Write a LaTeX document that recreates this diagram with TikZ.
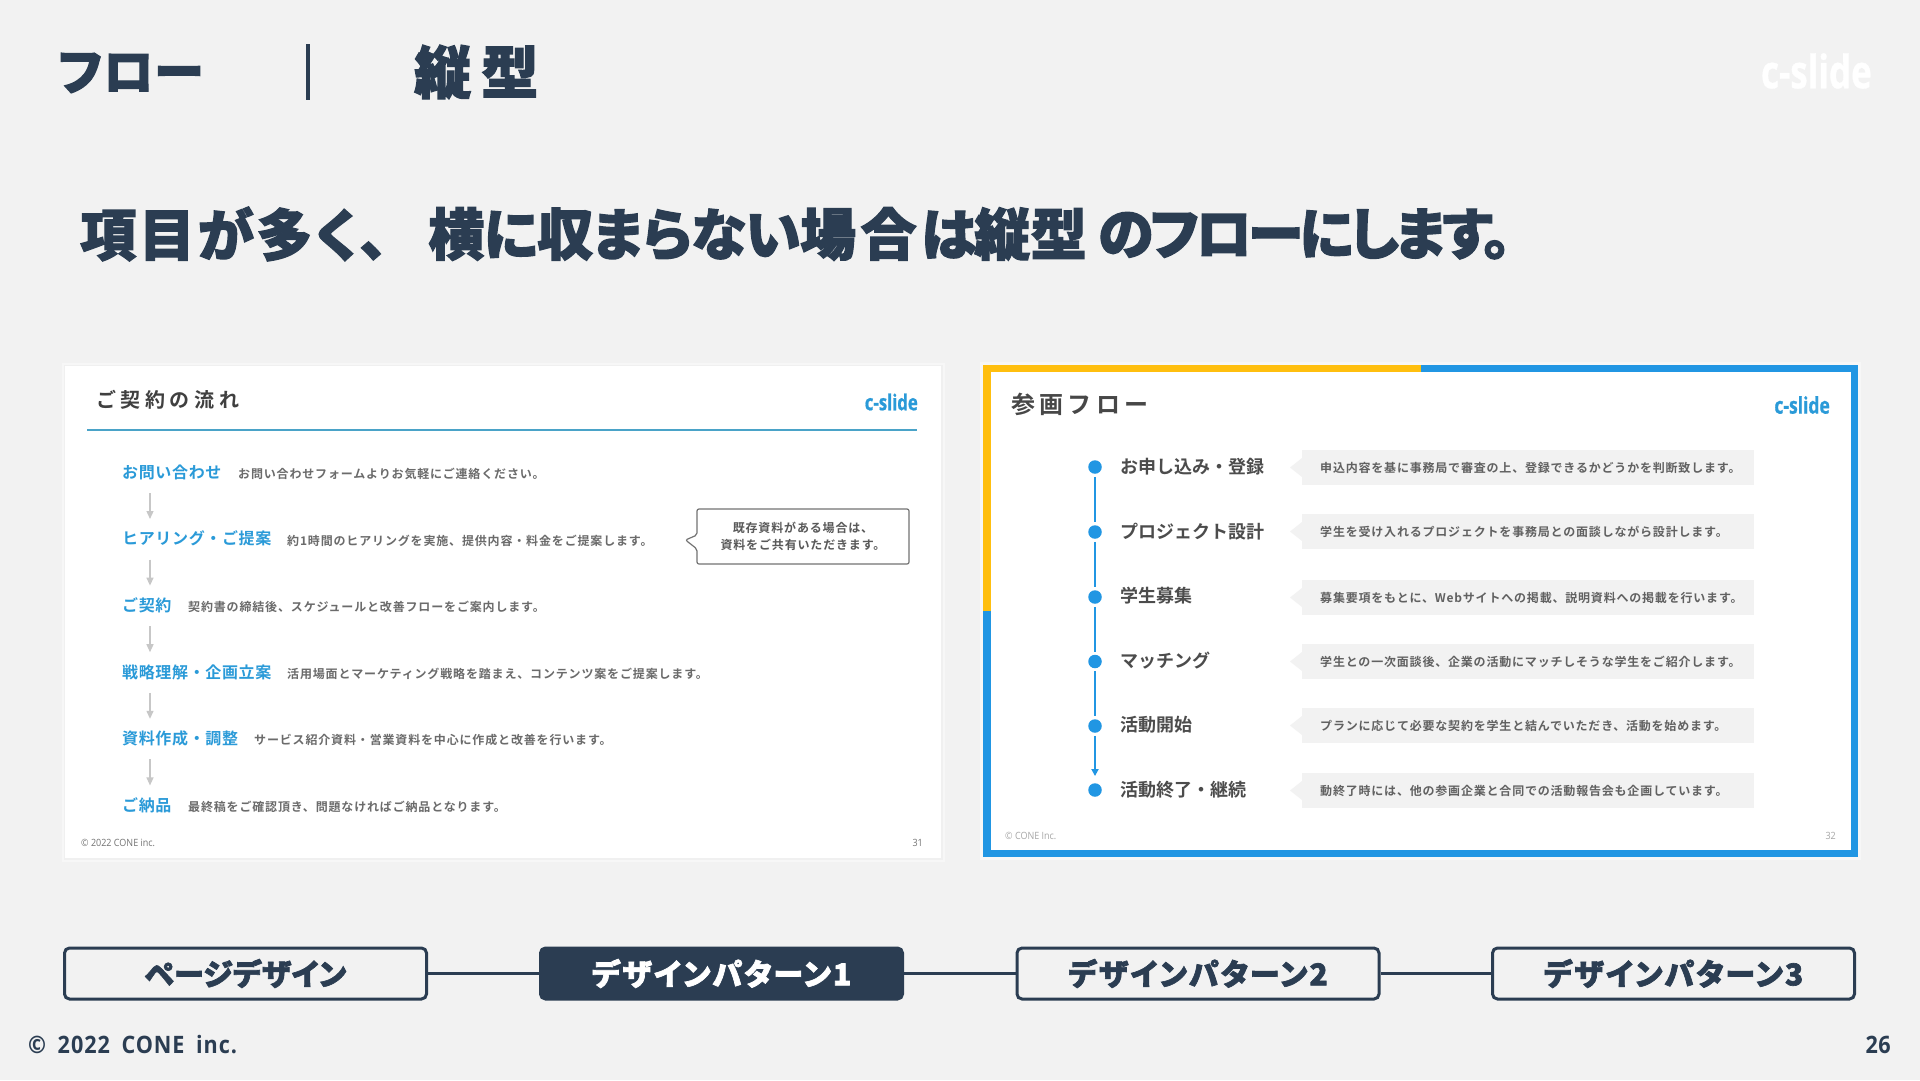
\documentclass[tikz,border=0pt]{standalone}
\usepackage{fontspec}
\usetikzlibrary{arrows.meta}
\setmainfont{Noto Sans CJK JP}[BoldFont={* Bold}]
\newfontfamily\jpblack{Noto Sans CJK JP Black}[RawFeature=+palt,FakeBold=2.2]
\newfontfamily\logofont{Open Sans}[FakeStretch=0.76,FakeBold=0.8]
\newfontfamily\latnfont{Open Sans}[FakeStretch=0.9]
\newcommand{\fsz}[2]{\fontsize{#1}{#1}\selectfont\addfontfeature{LetterSpace=#2}}
\definecolor{navy}{HTML}{2B3D52}
\definecolor{pagebg}{HTML}{F2F2F2}
\definecolor{sky}{HTML}{2196E3}
\definecolor{aqua}{HTML}{2A9AD8}
\definecolor{amber}{HTML}{FFBF0F}
\definecolor{teal}{HTML}{4AA3C8}
\begin{document}
\begin{tikzpicture}[x=1pt,y=-1pt,
 txt/.style={inner sep=0pt,anchor=west},
 subhead/.style={txt,text=navy},
 headblue/.style={txt,text=aqua,font=\bfseries\fsz{16}{4}},
 descgray/.style={txt,text=black!58,font=\bfseries\fsz{12}{7}},
 labeldark/.style={txt,text=black!70,font=\bfseries\fsz{18}{0}},
 descdark/.style={txt,text=black!62,font=\bfseries\fsz{12}{6.7}},
 barbox/.style={fill=pagebg,inner sep=0pt,anchor=north west,minimum width=451.5pt,minimum height=35pt},
 flowdot/.style={circle,fill=sky,inner sep=0pt,minimum size=13.5pt},
 grayarrow/.style={draw=black!22,line width=1.3pt,-{Triangle[length=8pt,width=7pt]}},
 stepline/.style={draw=sky,line width=1.8pt},
 navbox/.style={draw=navy,line width=3pt,rounded corners=5pt,fill=pagebg,text=navy,minimum width=362pt,minimum height=51pt,inner sep=0pt,font=\jpblack\fsz{30}{7}},
 navon/.style={navbox,fill=navy,text=white},
 navlink/.style={draw=navy,line width=3pt}]
\useasboundingbox (0,0) rectangle (1920,1080);
\fill[pagebg] (0,0) rectangle (1920,1080);

% header
\node[txt,text=navy,font=\jpblack\fsz{50}{2}] (ttl) at (58,73) {フロー};
\coordinate (bart) at (308,44); \coordinate (barb) at (308,100);
\draw[navy,line width=4pt] (bart) -- (barb);
\node[txt,text=navy,font=\jpblack\fsz{57}{18}] (ttr) at (414,72) {縦型};
\node[txt,anchor=east,text=white,font=\logofont\bfseries\fontsize{46}{46}\selectfont] (logo) at (1872,71) {c-slide};
\node[subhead,font=\jpblack\fsz{56}{5}] (suba) at (80,234) {項目が多く、};
\node[subhead,font=\jpblack\fsz{56}{-1}] (subb) at (428,234) {横に収まらない};
\node[subhead,font=\jpblack\fsz{56}{8}] (subc) at (800,234) {場合は};
\node[subhead,font=\jpblack\fsz{56}{1}] (subd) at (974,234) {縦型};
\node[subhead,font=\jpblack\fsz{56}{-6.5}] (sube) at (1098,234) {のフローにします。};

% left card
\fill[black!3] (61.5,362.5) rectangle (944.5,861.5);
\fill[black!6] (63.5,364.5) rectangle (942.5,859.5);
\fill[white] (65,366) rectangle (941,858);
\node[txt,text=black!75,font=\bfseries\fsz{20}{23}] (ltitle) at (96,400) {ご契約の流れ};
\node[txt,anchor=east,text=aqua,font=\logofont\bfseries\fontsize{22}{22}\selectfont] (llogo) at (918,402) {c-slide};
\coordinate (lrulea) at (87,430); \coordinate (lruleb) at (917,430);
\draw[draw=teal,line width=1.6pt] (lrulea) -- (lruleb);

\node[headblue] (h1) at (122,472.5) {お問い合わせ};
\node[descgray] (t1) at (238,474) {お問い合わせフォームよりお気軽にご連絡ください。};
\node[headblue] (h2) at (122,538.5) {ヒアリング・ご提案};
\node[descgray] (t2) at (287,540.5) {約1時間のヒアリングを実施、提供内容・料金をご提案します。};
\node[headblue] (h3) at (122,605.5) {ご契約};
\node[descgray] (t3) at (188,607) {契約書の締結後、スケジュールと改善フローをご案内します。};
\node[headblue] (h4) at (122,672) {戦略理解・企画立案};
\node[descgray] (t4) at (287,673.5) {活用場面とマーケティング戦略を踏まえ、コンテンツ案をご提案します。};
\node[headblue] (h5) at (122,738.5) {資料作成・調整};
\node[descgray] (t5) at (254,740) {サービス紹介資料・営業資料を中心に作成と改善を行います。};
\node[headblue] (h6) at (122,805.5) {ご納品};
\node[descgray] (t6) at (188,807) {最終稿をご確認頂き、問題なければご納品となります。};

\foreach \i/\y in {1/493,2/559.6,3/626.2,4/692.8,5/759.4}{
  \coordinate (as\i) at (150,\y);
  \coordinate (ae\i) at (150,\y+26);
  \draw[grayarrow] (as\i) -- (ae\i);
}

\draw[draw=black!55,fill=white,line width=1.2pt,rounded corners=2pt]
  (697,509) -- (909,509) -- (909,564) -- (697,564) -- (697,549) -- (685.5,540) -- (697,535) -- cycle;
\node[text=black!65,align=center,inner sep=0pt,font=\bfseries\fsz{12}{7}] (callout) at (803,536.5) {既存資料がある場合は、\\[5.5pt]資料をご共有いただきます。};

\node[txt,text=black!55,font=\latnfont\fontsize{10}{10}\selectfont] (lfoot) at (81,843) {© 2022 CONE inc.};
\node[txt,anchor=east,text=black!55,font=\latnfont\fontsize{10}{10}\selectfont] (lnum) at (923,843) {31};

% right card
\fill[black!3] (980,362) rectangle (1861,860);
\fill[sky] (983,365) rectangle (1858,857);
\fill[amber] (983,365) rectangle (1420.5,372);
\fill[amber] (983,365) rectangle (990.5,611);
\fill[white] (990.5,372) rectangle (1850.5,850);
\node[txt,text=black!72,font=\bfseries\fsz{24}{18}] (rtitle) at (1011,404) {参画フロー};
\node[txt,anchor=east,text=aqua,font=\logofont\bfseries\fontsize{23}{23}\selectfont] (rlogo) at (1830,405) {c-slide};

\foreach \i/\y/\ly/\by in {1/467/466/450,2/532/530.5/514,3/597/595.5/580,4/661.5/660/644,5/726/724.5/708,6/790/789/773}{
  \node[flowdot] (d\i) at (1095,\y) {};
  \fill[pagebg] (1302,\by+8) -- (1290,\by+17.5) -- (1302,\by+27) -- cycle;
  \node[barbox] (b\i) at (1302,\by) {};
}
\node[labeldark] (l1) at (1120,467) {お申し込み・登録};
\node[labeldark] (l2) at (1120,531.5) {プロジェクト設計};
\node[labeldark] (l3) at (1120,596) {学生募集};
\node[labeldark] (l4) at (1120,660.5) {マッチング};
\node[labeldark] (l5) at (1120,725) {活動開始};
\node[labeldark] (l6) at (1120,789.5) {活動終了・継続};
\node[descdark] (e1) at (1320,467.5) {申込内容を基に事務局で審査の上、登録できるかどうかを判断致します。};
\node[descdark] (e2) at (1320,532) {学生を受け入れるプロジェクトを事務局との面談しながら設計します。};
\node[descdark] (e3) at (1320,597.5) {募集要項をもとに、Webサイトへの掲載、説明資料への掲載を行います。};
\node[descdark] (e4) at (1320,661.5) {学生との一次面談後、企業の活動にマッチしそうな学生をご紹介します。};
\node[descdark] (e5) at (1320,726) {プランに応じて必要な契約を学生と結んでいただき、活動を始めます。};
\node[descdark] (e6) at (1320,790.5) {動終了時には、他の参画企業と合同での活動報告会も企画しています。};

\draw[stepline,shorten >=3pt,shorten <=3pt] (d1) -- (d2);
\draw[stepline,shorten >=3pt,shorten <=3pt] (d2) -- (d3);
\draw[stepline,shorten >=3pt,shorten <=3pt] (d3) -- (d4);
\draw[stepline,shorten >=3pt,shorten <=3pt] (d4) -- (d5);
\draw[stepline,shorten <=3pt,shorten >=7pt,-{Triangle[length=7pt,width=7pt]}] (d5) -- (d6);

\node[txt,text=black!35,font=\latnfont\fontsize{10}{10}\selectfont] (rfoot) at (1005,836) {© CONE Inc.};
\node[txt,anchor=east,text=black!35,font=\latnfont\fontsize{10}{10}\selectfont] (rnum) at (1836,836) {32};

% bottom navigation
\node[navbox,font=\jpblack\fsz{30}{1}] (n1) at (245.5,973.5) {\raisebox{-1pt}{ページデザイン}};
\node[navon] (n2) at (721.5,973.5) {\raisebox{-1pt}{デザインパターン1}};
\node[navbox] (n3) at (1198,973.5) {\raisebox{-1pt}{デザインパターン2}};
\node[navbox] (n4) at (1673.5,973.5) {\raisebox{-1pt}{デザインパターン3}};
\draw[navlink] (n1) -- (n2);
\draw[navlink] (n2) -- (n3);
\draw[navlink] (n3) -- (n4);

\node[txt,text=navy,font=\latnfont\bfseries\fsz{24}{4}] (foot) at (28,1045) {©\hspace{5pt} 2022\hspace{5pt} CONE\hspace{5pt} inc.};
\node[txt,anchor=east,text=navy,font=\latnfont\bfseries\fsz{24}{2}] (page) at (1891,1045) {26};
\end{tikzpicture}
\end{document}
